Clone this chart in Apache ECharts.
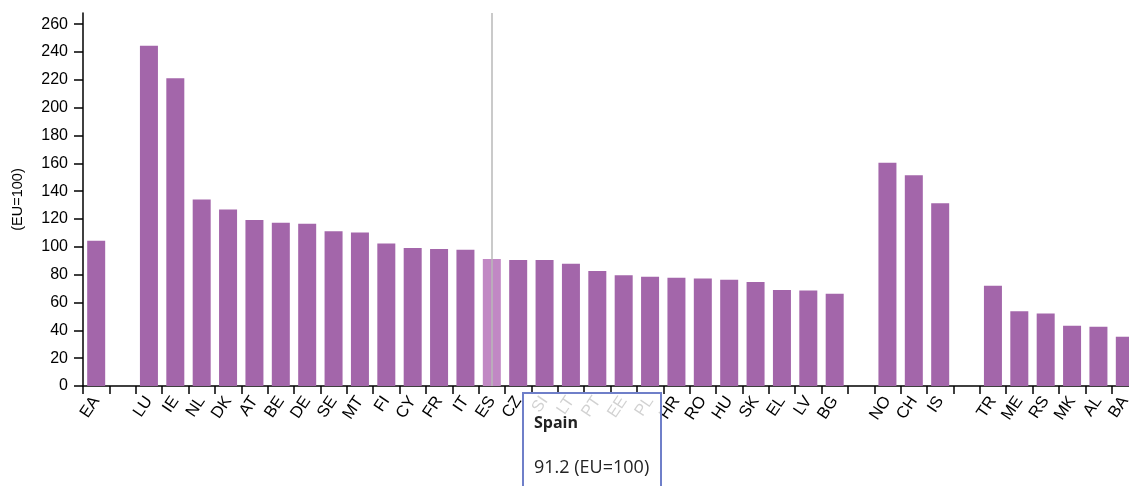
<!DOCTYPE html>
<html>
<head>
<meta charset="utf-8">
<script src="https://cdn.jsdelivr.net/npm/echarts@6/dist/echarts.min.js"></script>
<style>
html, body { margin:0; padding:0; overflow:hidden; background:#fff; }
#chart { width:1129px; height:486px; }
</style>
</head>
<body>
<div id="chart"></div>
<script>
var categories = ['EA','','LU','IE','NL','DK','AT','BE','DE','SE','MT','FI','CY','FR','IT','ES','CZ','SI','LT','PT','EE','PL','HR','RO','HU','SK','EL','LV','BG','','NO','CH','IS','','TR','ME','RS','MK','AL','BA'];
var countryNames = ['Euro area','','Luxembourg','Ireland','Netherlands','Denmark','Austria','Belgium','Germany','Sweden','Malta','Finland','Cyprus','France','Italy','Spain','Czechia','Slovenia','Lithuania','Portugal','Estonia','Poland','Croatia','Romania','Hungary','Slovakia','Greece','Latvia','Bulgaria','','Norway','Switzerland','Iceland','','Turkey','Montenegro','Serbia','North Macedonia','Albania','Bosnia and Herzegovina'];
var values = [104.3,null,244.5,221.2,134.0,126.8,119.2,117.3,116.5,111.2,110.3,102.3,99.2,98.5,97.9,91.2,90.6,90.5,87.9,82.6,79.6,78.5,77.8,77.2,76.4,74.7,68.9,68.7,66.3,null,160.4,151.4,131.3,null,72.0,53.7,52.1,43.3,42.5,35.4];
var yTicks = [0,20,40,60,80,100,120,140,160,180,200,220,240,260];

var chart = echarts.init(document.getElementById('chart'), null, {renderer:'canvas'});
chart.setOption({
  animation: false,
  grid: { left: 83, right: -9, top: 13, bottom: 100, containLabel: false, outerBoundsMode: 'none' },
  tooltip: {
    trigger: 'axis',
    position: [522, 392],
    transitionDuration: 0,
    backgroundColor: 'rgba(255,255,255,0.82)',
    borderColor: '#6f7fc9',
    borderWidth: 2,
    borderRadius: 0,
    padding: [14, 10, 10, 10],
    extraCssText: 'box-shadow:none;width:116px;border-style:solid;',
    axisPointer: { type: 'line', lineStyle: { color: '#b8b8b8', width: 1.5, type: 'solid' } },
    formatter: function (params) {
      var p = params[0];
      return '<div style="font-family:\'Open Sans\',sans-serif;color:#222;">' +
        '<div style="font-weight:bold;font-size:16px;line-height:28px;">' + countryNames[p.dataIndex] + '</div>' +
        '<div style="font-size:18px;line-height:28px;margin-top:16px;">' + p.value + ' (EU=100)</div></div>';
    }
  },
  xAxis: {
    type: 'category',
    data: categories,
    boundaryGap: true,
    axisLine: { lineStyle: { color: '#000', width: 1.5 } },
    axisTick: { show: true, length: 8, interval: 0, lineStyle: { color: '#000', width: 1.5 } },
    axisLabel: { interval: 0, rotate: 56, margin: 12, color: '#000', fontSize: 16.5, fontFamily: 'Liberation Sans, Arial, sans-serif' }
  },
  yAxis: {
    type: 'value',
    min: 0,
    max: 268,
    name: '(EU=100)',
    nameLocation: 'middle',
    nameGap: 58,
    nameRotate: 90,
    nameTextStyle: { color: '#000', fontSize: 14.5, fontFamily: 'Liberation Sans, Arial, sans-serif' },
    splitLine: { show: false },
    axisLine: { show: true, lineStyle: { color: '#000', width: 1.5 } },
    axisTick: { show: true, length: 9, customValues: yTicks, lineStyle: { color: '#000', width: 1.5 } },
    axisLabel: { customValues: yTicks, margin: 15, color: '#000', fontSize: 16, fontFamily: 'Liberation Sans, Arial, sans-serif' }
  },
  series: [{
    type: 'bar',
    data: values,
    barWidth: 18,
    itemStyle: { color: '#a366aa' },
    emphasis: { itemStyle: { color: '#c188c4' } }
  }]
});
chart.dispatchAction({ type: 'showTip', seriesIndex: 0, dataIndex: 15 });
chart.dispatchAction({ type: 'highlight', seriesIndex: 0, dataIndex: 15 });
</script>
</body>
</html>
